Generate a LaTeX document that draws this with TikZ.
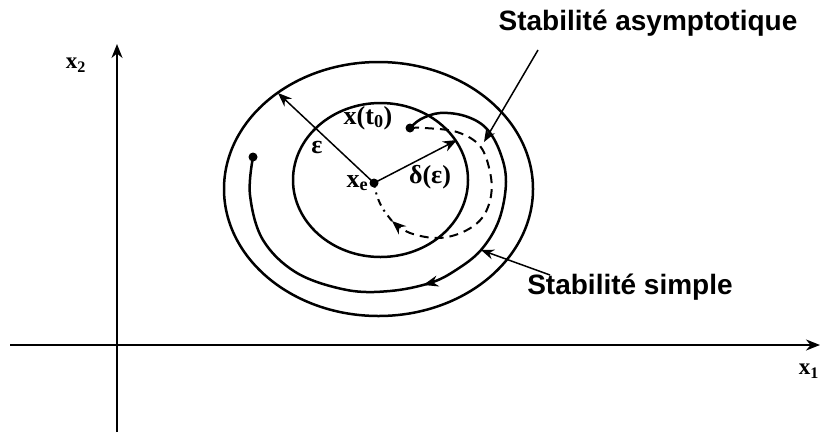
\documentclass[tikz,border=0pt]{standalone}
\usepackage{fontspec}
\setmainfont{Liberation Serif}
\newfontfamily\captionfont{Liberation Sans}
\usetikzlibrary{arrows.meta, positioning, calc, decorations.markings}

\begin{document}
\begin{tikzpicture}[x=1pt, y=-1pt,
    >={Stealth[length=14pt,width=11pt]},
    dotnode/.style={circle, fill=black, inner sep=0pt, minimum size=9pt},
    mathlbl/.style={inner sep=1pt, font=\fontsize{26}{28}\selectfont\bfseries},
    stablbl/.style={inner sep=0pt, font=\captionfont\fontsize{28}{30}\selectfont\bfseries},
    axislbl/.style={inner sep=0pt, font=\fontsize{23}{25}\selectfont\bfseries}]

    \useasboundingbox (0,0) rectangle (821,432);

    % Axes
    \coordinate (o1) at (10,345);
    \coordinate (e1) at (820,345);
    \coordinate (o2) at (117,432);
    \coordinate (e2) at (117,44);
    \draw[->, line width=2pt] (o1) -- (e1);
    \draw[->, line width=2pt] (o2) -- (e2);
    \node[axislbl] (x1) at (809,371) {x\textsubscript{1}};
    \node[axislbl] (x2) at (76,65) {x\textsubscript{2}};

    % Regions epsilon and delta
    \draw[line width=2.5pt] (378.5,189) ellipse [x radius=154.5, y radius=127];
    \draw[line width=2.5pt] (380.5,180) ellipse [x radius=87.5, y radius=77];

    % Points
    \node[dotnode] (xe) at (374,183) {};
    \node[dotnode] (xt0) at (410,128) {};
    \node[dotnode] (xend) at (253,157) {};

    % Radii
    \coordinate (epsend) at (278,93);
    \coordinate (deltaend) at (457,140);
    \draw[->, line width=1.5pt] (xe.center) -- (epsend);
    \draw[->, line width=1.5pt] (xe.center) -- (deltaend);

    % Labels
    \node[mathlbl] (eps) at (317,147) {ε};
    \node[mathlbl] (delta) at (430,177) {δ(ε)};
    \node[mathlbl, left=0pt of xe] (xelbl) {x\textsubscript{e}};
    \node[mathlbl] (xt0lbl) at (368,118) {x(t\textsubscript{0})};

    % Simple stability trajectory
    \draw[line width=2.5pt, postaction={decorate},
        decoration={markings, mark=at position 0.52 with {\arrow{Stealth[length=15pt,width=11pt]}}}]
        plot[smooth, tension=0.6] coordinates {(xt0.center) (421,119) (440,113) (465,116) (486,128)
        (500,152) (506,182) (499,220) (481,250) (456,270) (430,283) (390,291) (347,290)
        (297,273) (263,240) (250,195) (xend.center)};

    % Asymptotic stability trajectory
    \coordinate (asytip) at (392,221);
    \draw[->, line width=2pt, dash pattern=on 9pt off 6pt]
        plot[smooth, tension=0.6] coordinates {(xt0.center) (425,128) (457,132) (480,146)
        (490,172) (491,196) (482,218) (463,232) (438,238) (410,233) (asytip)};
    \draw[line width=2pt, dash pattern=on 7pt off 5pt on 2pt off 5pt]
        plot[smooth, tension=0.6] coordinates {(asytip) (383,209) (377,196) (xe.center)};

    % Captions and leaders
    \node[stablbl] (asym) at (648,23) {Stabilité asymptotique};
    \node[stablbl] (simple) at (630,287) {Stabilité simple};
    \coordinate (asyfoot) at (538,50);
    \coordinate (asyhead) at (484,142);
    \coordinate (simfoot) at (550,275);
    \coordinate (simhead) at (481,250);
    \draw[-{Stealth[length=13pt,width=10pt]}, line width=1.5pt] (asyfoot) -- (asyhead);
    \draw[-{Stealth[length=13pt,width=10pt]}, line width=1.5pt] (simfoot) -- (simhead);
\end{tikzpicture}
\end{document}
